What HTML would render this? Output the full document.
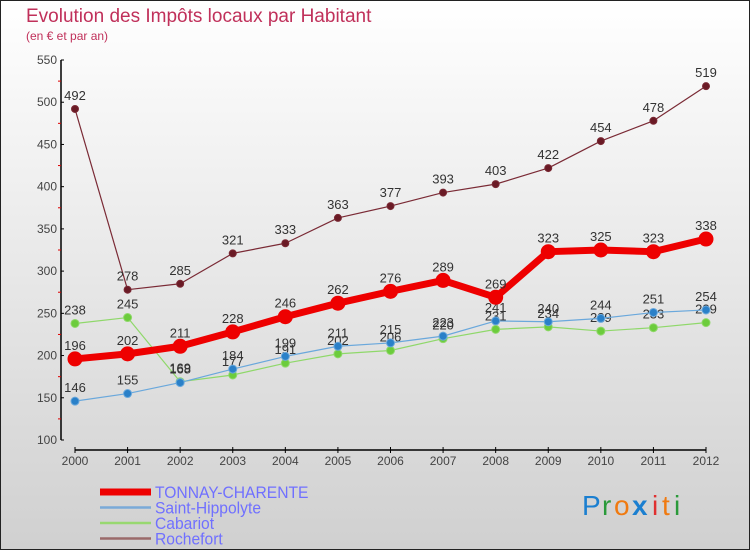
<!DOCTYPE html>
<html><head><meta charset="utf-8"><style>
html,body{margin:0;padding:0}
body{width:750px;height:550px;overflow:hidden;font-family:"Liberation Sans",sans-serif}
</style></head><body>
<svg id="chart" width="750" height="550" xmlns="http://www.w3.org/2000/svg" font-family="Liberation Sans, sans-serif">
<defs><linearGradient id="bg" x1="0" y1="0" x2="0" y2="1"><stop offset="0" stop-color="#ffffff"/><stop offset="1" stop-color="#d0d0d0"/></linearGradient></defs>
<rect x="0.5" y="0.5" width="749" height="549" fill="url(#bg)" stroke="#222" stroke-width="1"/>
<text x="26" y="22" font-size="19" fill="#c0305a">Evolution des Impôts locaux par Habitant</text>
<text x="26" y="40" font-size="12" fill="#c0305a">(en € et par an)</text>
<g id="axes"></g><g id="series"></g><g id="legend"></g>
<g font-size="28">
<text x="582" y="515" fill="#1b7fd0">P</text><text x="602" y="515" fill="#2a9a3a">r</text><text x="614" y="515" fill="#f07a10">o</text><text x="632" y="515" fill="#1b7fd0" font-weight="bold">x</text><text x="652" y="515" fill="#e03030">i</text><text x="662" y="515" fill="#f07a10">t</text><text x="674" y="515" fill="#2a9a3a">i</text>
</g>
</svg>
<script>
const years=["2000","2001","2002","2003","2004","2005","2006","2007","2008","2009","2010","2011","2012"];
const yTicks=[100,150,200,250,300,350,400,450,500,550];
const tonnay=[196,202,211,228,246,262,276,289,269,323,325,323,338];
const hippolyte=[146,155,168,184,199,211,215,223,241,240,244,251,254];
const cabariot=[238,245,169,177,191,202,206,220,231,234,229,233,239];
const rochefort=[492,278,285,321,333,363,377,393,403,422,454,478,519];
const NS="http://www.w3.org/2000/svg";
function X(i){return 75+i*(706-75)/12;}
function Y(v){return 440-(v-100)*(380/450);}
function mk(tag,attrs,parent){const e=document.createElementNS(NS,tag);for(const k in attrs)e.setAttribute(k,attrs[k]);parent.appendChild(e);return e;}
const axes=document.getElementById('axes');
const ya=mk('line',{x1:61,y1:Y(550),x2:61,y2:Y(100),stroke:'#000','stroke-width':1.5},axes);


yTicks.forEach((t,i)=>{
  mk('line',{x1:61,y1:Y(t),x2:64,y2:Y(t),stroke:'#000'},axes);
  if(i<yTicks.length-1) mk('line',{x1:58,y1:Y(t+25),x2:61,y2:Y(t+25),stroke:'#d00'},axes);
  const tx=mk('text',{x:57,y:Y(t)+4,'font-size':12,'text-anchor':'end',fill:'#444'},axes);
  tx.textContent=t;
  
  
});
const xa=mk('line',{x1:X(0),y1:450,x2:X(12),y2:450,stroke:'#000','stroke-width':1.5},axes);


years.forEach((y,i)=>{
  mk('line',{x1:X(i),y1:447,x2:X(i),y2:453,stroke:'#000'},axes);
  const tx=mk('text',{x:X(i),y:465,'font-size':12,'text-anchor':'middle',fill:'#444'},axes);
  tx.textContent=y;
  
  
});
const ser=document.getElementById('series');
function draw(vals,name,color,dot,w,r){
  const g=mk('g',{},ser);
  
  
  mk('polyline',{points:vals.map((v,i)=>X(i)+','+Y(v)).join(' '),fill:'none',stroke:color,'stroke-width':w,'stroke-linejoin':'round'},g);
  vals.forEach((v,i)=>{
    const c=mk('circle',{cx:X(i),cy:Y(v),r:r,fill:dot,stroke:color,'stroke-width':1},g);
    
    
    const t=mk('text',{x:X(i),y:Y(v)-9,'font-size':13,'text-anchor':'middle',fill:'#333'},g);
    t.textContent=v;
    
    
  });
}
draw(rochefort,'rochefort','#7a2a35','#6a1a25',1.2,3.5);
draw(cabariot,'cabariot','#8fd86a','#6ccc3c',1.2,4);
draw(hippolyte,'saint-hippolyte','#6aa8dc','#2a80c8',1.2,4);
draw(tonnay,'tonnay-charente','#ee0000','#ee0000',7,7);
const lg=document.getElementById('legend');
[['TONNAY-CHARENTE','#ee0000',7],['Saint-Hippolyte','#7aaad8',2.5],['Cabariot','#98d870',2.5],['Rochefort','#9a6a6a',2.5]].forEach((e,i)=>{
  const y=492+i*15.5;
  const g=mk('g',{},lg);
  
  
  mk('line',{x1:100,y1:y,x2:151,y2:y,stroke:e[1],'stroke-width':e[2]},g);
  const t=mk('text',{x:155,y:y+6,'font-size':17,fill:'#7070ff',textLength:'',},g);
  t.removeAttribute('textLength');
  t.setAttribute('transform','translate(155,0) scale(0.92,1) translate(-155,0)');
  t.textContent=e[0];
});
</script>
</body></html>
